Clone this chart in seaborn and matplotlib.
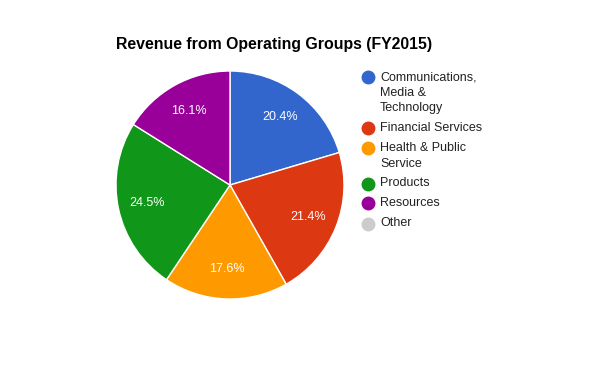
import matplotlib.pyplot as plt
import seaborn as sns
from matplotlib.lines import Line2D

sns.set_theme(style="white")
plt.rcParams["font.family"] = ["Liberation Sans", "DejaVu Sans"]

groups = ["Communications,\nMedia &\nTechnology", "Financial Services",
          "Health & Public\nService", "Products", "Resources", "Other"]
shares = [20.4, 21.4, 17.6, 24.5, 16.1, 0.0]
colors = ["#3366cc", "#dc3912", "#ff9900", "#109618", "#990099", "#cccccc"]

fig = plt.figure(figsize=(6, 3.71), dpi=100)
W, H = 600, 371

# pie axes, centre (230,185) px, radius 114 px
r = 114
ax = fig.add_axes([(230 - r) / W, (H - 185 - r) / H, 2 * r / W, 2 * r / H])
pie_vals = [v for v in shares if v > 0]
pie_cols = [c for v, c in zip(shares, colors) if v > 0]
wedges, texts, autotexts = ax.pie(
    pie_vals,
    colors=pie_cols,
    startangle=90,
    counterclock=False,
    autopct="%.1f%%",
    pctdistance=0.74,
    wedgeprops=dict(edgecolor="white", linewidth=1),
    textprops=dict(color="white", fontsize=9),
    radius=1,
)
ax.set_xlim(-1, 1)
ax.set_ylim(-1, 1)
ax.set_aspect("equal")
ax.axis("off")

fig.text(116 / W, 1 - 45 / H, "Revenue from Operating Groups (FY2015)",
         fontsize=11.4, fontweight="bold", va="center", ha="left", color="black")

# legend
line_h = 15.5
y = 77
for name, col in zip(groups, colors):
    fig.add_artist(Line2D([368 / W], [1 - y / H], marker="o", markersize=9,
                          color=col, linestyle="none", transform=fig.transFigure))
    lines = name.split("\n")
    for i, ln in enumerate(lines):
        fig.text(380 / W, 1 - (y + i * line_h) / H, ln, fontsize=9,
                 va="center", ha="left", color="#222222")
    y += line_h * len(lines) + 4.5

fig.savefig("out.png", dpi=100, facecolor="white")
